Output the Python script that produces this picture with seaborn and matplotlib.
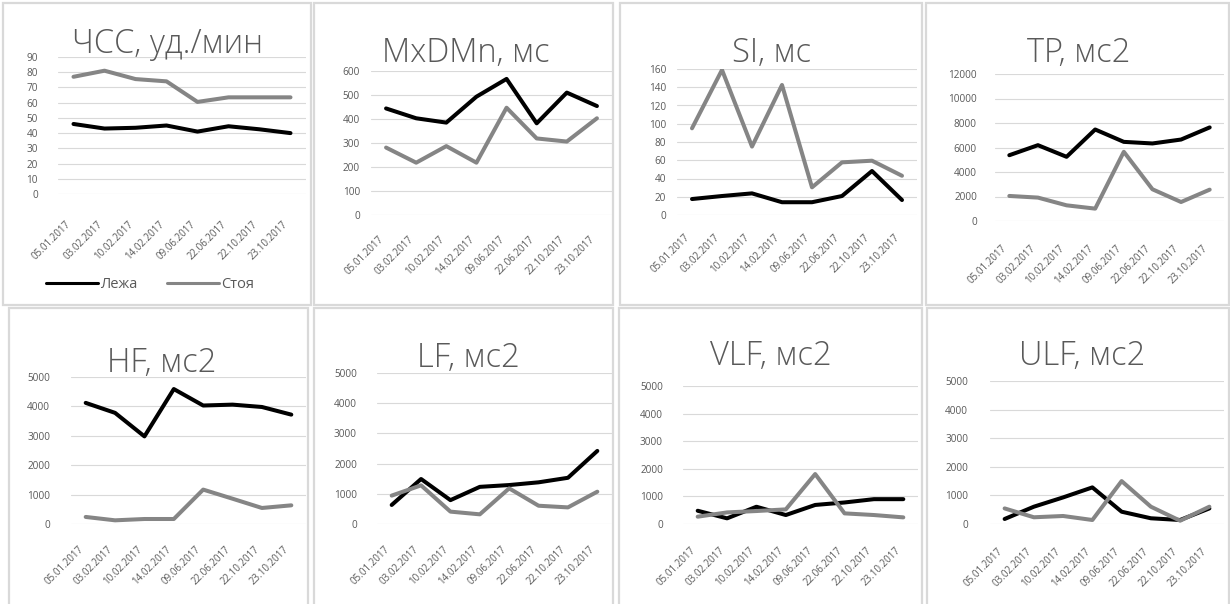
import numpy as np
import pandas as pd
import matplotlib
matplotlib.use("Agg")
import matplotlib.pyplot as plt
import seaborn as sns
from matplotlib.patches import Rectangle
from matplotlib.lines import Line2D

# Measurement dates and body positions
dates = ["05.01.2017", "03.02.2017", "10.02.2017", "14.02.2017",
         "09.06.2017", "22.06.2017", "22.10.2017", "23.10.2017"]
positions = ["Лежа", "Стоя"]

# Heart rate, beats/min
hr_lying = [46, 43, 43.5, 45, 41, 44.5, 42.5, 40]
hr_standing = [77, 81, 75.5, 74, 60.5, 63.5, 63.5, 63.5]

# MxDMn, ms
mxdmn_lying = [444, 403, 385, 493, 567, 382, 510, 454]
mxdmn_standing = [281, 218, 287, 218, 447, 319, 306, 403]

# SI
si_lying = [17.5, 20.8, 23.7, 14, 14, 20.8, 48.2, 16.4]
si_standing = [95, 159, 75, 142.5, 30.3, 57.7, 59.5, 43]

# Total power, ms2
tp_lying = [5370, 6190, 5240, 7470, 6460, 6330, 6650, 7640]
tp_standing = [2045, 1910, 1280, 1010, 5650, 2590, 1550, 2560]

# HF, ms2
hf_lying = [4120, 3780, 2980, 4590, 4030, 4060, 3980, 3720]
hf_standing = [240, 125, 170, 170, 1170, 860, 545, 635]

# LF, ms2
lf_lying = [630, 1490, 790, 1230, 1290, 1380, 1530, 2420]
lf_standing = [940, 1280, 410, 320, 1180, 605, 550, 1070]

# VLF, ms2
vlf_lying = [480, 205, 625, 325, 690, 780, 900, 900]
vlf_standing = [265, 420, 470, 530, 1810, 385, 325, 240]

# ULF, ms2
ulf_lying = [175, 605, 930, 1280, 430, 200, 140, 545]
ulf_standing = [545, 235, 280, 140, 1500, 605, 115, 605]

titles = ["ЧСС, уд./мин", "MxDMn, мс", "SI, мс", "TP, мс2",
          "HF, мс2", "LF, мс2", "VLF, мс2", "ULF, мс2"]
series = [(hr_lying, hr_standing), (mxdmn_lying, mxdmn_standing),
          (si_lying, si_standing), (tp_lying, tp_standing),
          (hf_lying, hf_standing), (lf_lying, lf_standing),
          (vlf_lying, vlf_standing), (ulf_lying, ulf_standing)]
y_limits = [(90, 10), (600, 100), (160, 20), (12000, 2000),
            (5000, 1000), (5000, 1000), (5000, 1000), (5000, 1000)]

sns.set_theme(style="white")
plt.rcParams["font.family"] = ["Open Sans", "DejaVu Sans"]

W, H = 1230, 604
fig = plt.figure(figsize=(W / 100, H / 100), dpi=100)
fig.patch.set_facecolor("white")

def fig_rect(x0, y0, x1, y1):
    return [x0 / W, 1 - y1 / H, (x1 - x0) / W, (y1 - y0) / H]

# layout in pixels: plot area, title (center x, baseline y), tick pads
plot_boxes = [(58, 57, 306, 194), (371, 71, 612, 215), (677, 69, 917, 215),
              (995, 74, 1224, 221), (71, 377, 306, 524), (377, 373, 612, 524),
              (683, 386, 918, 524), (990, 381, 1224, 524)]
title_pos = [(168, 53), (466, 62), (772, 62), (1079, 62),
             (162, 372), (468, 367), (771, 365), (1082, 365)]
ypads = [20, 11, 11, 18, 21, 20, 20, 22]
xpads = [25, 19, 17, 22, 20, 20, 21, 22]
panel_boxes = [(3, 3, 311, 305), (314, 3, 613, 305), (620, 3, 922, 305),
               (926, 3, 1229, 305), (9, 308, 308, 610), (314, 308, 613, 610),
               (619, 308, 922, 610), (927, 308, 1229, 610)]

palette = {"Лежа": "#000000", "Стоя": "#858585"}
text_color = "#595959"
grid_color = "#d9d9d9"

for i in range(8):
    px0, py0, px1, py1 = panel_boxes[i]
    fig.add_artist(Rectangle((px0 / W, 1 - py1 / H), (px1 - px0) / W, (py1 - py0) / H,
                             transform=fig.transFigure, fill=False,
                             edgecolor=grid_color, linewidth=1.6, zorder=0))

    ax = fig.add_axes(fig_rect(*plot_boxes[i]))
    lying, standing = series[i]
    df = pd.DataFrame({
        "Дата": dates * 2,
        "Значение": list(lying) + list(standing),
        "Положение": [positions[0]] * len(dates) + [positions[1]] * len(dates),
    })
    sns.lineplot(data=df, x="Дата", y="Значение", hue="Положение",
                 palette=palette, linewidth=2.9, sort=False, legend=False, ax=ax)

    ymax, step = y_limits[i]
    ax.set_ylim(0, ymax)
    ax.set_yticks(np.arange(0, ymax + step / 2, step))
    ax.set_xlim(-0.5, len(dates) - 0.5)
    ax.set_xticks(range(len(dates)))
    ax.set_xticklabels(dates, rotation=45, ha="right")
    ax.set_xlabel("")
    ax.set_ylabel("")
    ax.yaxis.grid(True, color=grid_color, linewidth=0.8)
    ax.xaxis.grid(False)
    ax.set_axisbelow(True)
    for s in ax.spines.values():
        s.set_visible(False)
    ax.tick_params(axis="y", length=0, pad=ypads[i] * 0.72, labelsize=7.2,
                   labelcolor=text_color)
    ax.tick_params(axis="x", length=0, pad=xpads[i] * 0.72, labelsize=7.0,
                   labelcolor=text_color)
    ax.set_facecolor("none")

    tx, ty = title_pos[i]
    fig.text(tx / W, 1 - ty / H, titles[i], ha="center", va="baseline",
             fontsize=23.5, color=text_color, fontweight="light")

    if i == 0:
        handles = [Line2D([], [], color=palette[p], linewidth=2.2) for p in positions]
        ax.legend(handles, positions, loc="center", ncol=2, frameon=False,
                  bbox_to_anchor=(150 / W, 1 - 285 / H),
                  bbox_transform=fig.transFigure, fontsize=10.5,
                  handlelength=3.6, handletextpad=0.15, columnspacing=2.0,
                  labelcolor=text_color)

fig.savefig("out.png", dpi=100, facecolor="white")
